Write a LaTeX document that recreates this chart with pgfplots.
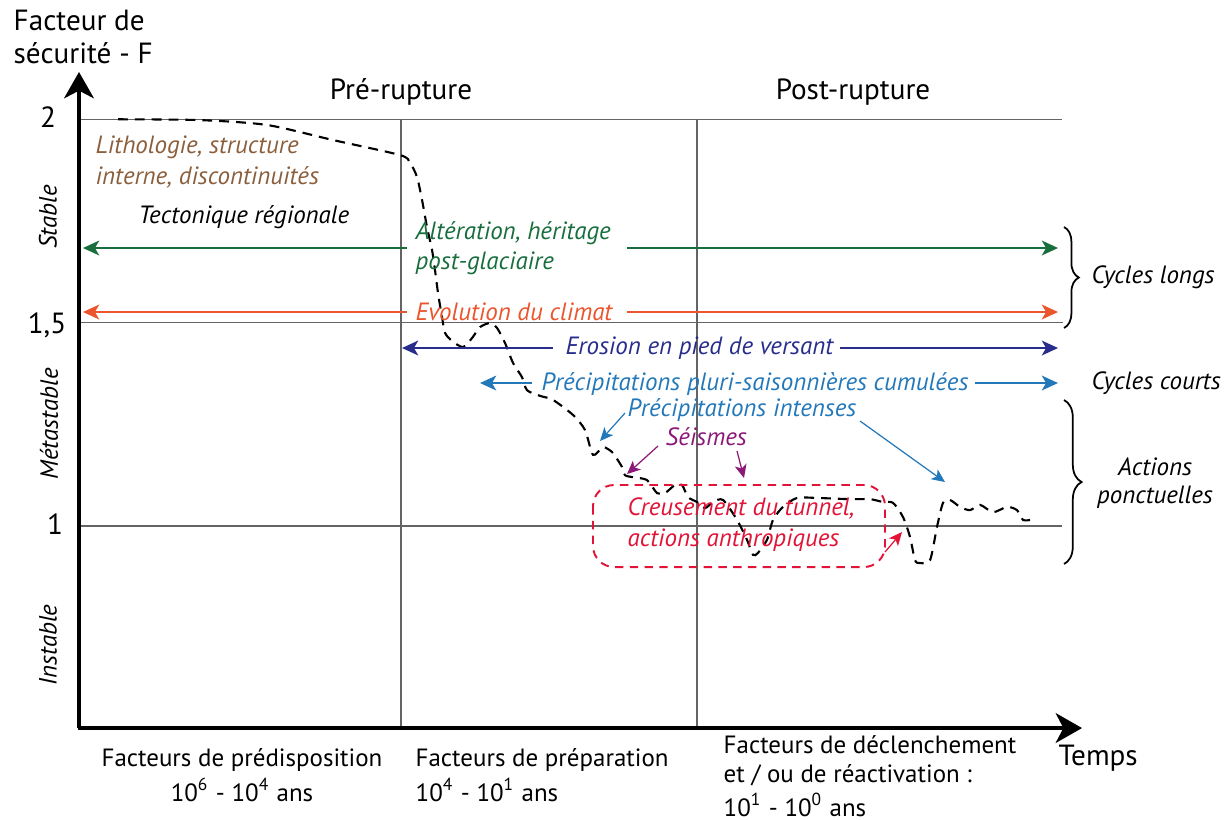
\documentclass[border=0pt]{standalone}
\usepackage{fontspec}
\setmainfont{PT Sans}
\usepackage{pgfplots}
\pgfplotsset{compat=1.18}
\usetikzlibrary{arrows.meta,decorations.pathreplacing}
\definecolor{cbrown}{RGB}{139,94,60}
\definecolor{cgreen}{RGB}{24,110,60}
\definecolor{corange}{RGB}{235,85,45}
\definecolor{cdblue}{RGB}{40,45,140}
\definecolor{cblue}{RGB}{35,120,185}
\definecolor{cpurple}{RGB}{140,25,120}
\definecolor{cred}{RGB}{225,20,55}
\definecolor{cgrid}{RGB}{100,100,100}
\newcommand\Y[1]{{2.2933-(#1)/406.7}}
\newcommand\fn{\fontsize{7.1}{8.5}\selectfont}
\newcommand\fb{\fontsize{8.3}{9.5}\selectfont}
\tikzset{tx/.style={inner sep=0pt, font=\fn},
  it/.style={inner sep=0pt, font=\fn\itshape},
  bg/.style={inner sep=0pt, font=\fb}}
\begin{document}
\begin{tikzpicture}
\begin{axis}[
  scale only axis, width=123.1mm, height=81.9mm,
  xmin=0, xmax=1231, ymin=0.2796, ymax=2.2933,
  axis lines=none, clip=false,
]
\path (axis cs:0,0.2796) rectangle (axis cs:1231,2.2933);
% grid lines
\draw[cgrid, line width=0.45pt] (axis cs:79,2) -- (axis cs:1062,2);
\draw[cgrid, line width=0.45pt] (axis cs:79,1.5) -- (axis cs:1063,1.5);
\draw[cgrid, line width=0.45pt] (axis cs:79,1) -- (axis cs:1062,1);
\draw[cgrid, line width=0.45pt] (axis cs:401,2) -- (axis cs:401,\Y{728});
\draw[cgrid, line width=0.45pt] (axis cs:697,2) -- (axis cs:697,\Y{728});
% axes
\draw[black, line width=0.9pt, -{Stealth[length=7.5pt,width=8.5pt,inset=2.2pt]}] (axis cs:79,\Y{728}) -- (axis cs:79,\Y{72});
\draw[black, line width=0.9pt, -{Stealth[length=7.5pt,width=8.5pt,inset=2.2pt]}] (axis cs:78,\Y{728}) -- (axis cs:1082,\Y{728});
% safety factor curve
\addplot[black, line width=0.6pt, dash pattern=on 2.8pt off 2pt, smooth, tension=0.45] coordinates {
(118,2.000) (200,1.998) (267,1.986) (333,1.949) (400,1.912) (410,1.893)
(417,1.858) (422,1.802) (427,1.735) (432,1.679) (435,1.629) (438,1.573)
(442,1.514) (445,1.475) (452,1.455) (463,1.440) (472,1.462) (480,1.489)
(490,1.499) (497,1.487) (505,1.450) (513,1.401) (522,1.366) (527,1.334)
(540,1.320) (553,1.310) (573,1.273) (585,1.236) (593,1.175) (603,1.194)
(612,1.182) (617,1.165) (622,1.145) (625,1.125) (633,1.120) (647,1.113)
(657,1.081) (665,1.081) (675,1.101) (682,1.101) (688,1.071) (697,1.059)
(705,1.044) (713,1.059) (723,1.064) (737,1.015) (747,0.966) (753,0.929)
(758,0.934) (767,0.966) (773,1.015) (783,1.047) (797,1.069) (817,1.069)
(850,1.066) (870,1.066) (883,1.059) (893,1.057) (903,1.022) (910,0.973)
(915,0.916) (920,0.909) (930,0.916) (937,0.998) (943,1.057) (950,1.064)
(960,1.047) (970,1.039) (980,1.052) (993,1.034) (1007,1.047) (1017,1.039)
(1023,1.015) (1030,1.015)
};
% axis texts
\node[bg, anchor=west] at (axis cs:13,\Y{20}) {Facteur de};
\node[bg, anchor=west] at (axis cs:13,\Y{53}) {sécurité - F};
\node[bg] at (axis cs:48,\Y{117}) {2};
\node[bg] at (axis cs:47,\Y{325}) {1,5};
\node[bg] at (axis cs:55,\Y{524}) {1};
\node[bg] at (axis cs:401,\Y{92}) {Pré-rupture};
\node[bg] at (axis cs:853,\Y{92}) {Post-rupture};
\node[it, rotate=90] at (axis cs:48,\Y{217}) {Stable};
\node[it, rotate=90] at (axis cs:49,\Y{424}) {Métastable};
\node[it, rotate=90] at (axis cs:48,\Y{645}) {Instable};
\node[bg, anchor=west] at (axis cs:1058,\Y{758}) {Temps};
% bottom labels
\node[tx] at (axis cs:242,\Y{760}) {Facteurs de prédisposition};
\node[tx] at (axis cs:242,\Y{790}) {10\textsuperscript{6} - 10\textsuperscript{4} ans};
\node[tx, anchor=west] at (axis cs:415,\Y{760}) {Facteurs de préparation};
\node[tx, anchor=west] at (axis cs:415,\Y{790}) {10\textsuperscript{4} - 10\textsuperscript{1} ans};
\node[tx, anchor=west] at (axis cs:723,\Y{745}) {Facteurs de déclenchement};
\node[tx, anchor=west] at (axis cs:723,\Y{775}) {et / ou de réactivation :};
\node[tx, anchor=west] at (axis cs:723,\Y{805}) {10\textsuperscript{1} - 10\textsuperscript{0} ans};
% factor texts
\node[it, anchor=west, text=cbrown] at (axis cs:95,\Y{147}) {Lithologie, structure};
\node[it, anchor=west, text=cbrown] at (axis cs:95,\Y{177}) {interne, discontinuités};
\node[it, anchor=west] at (axis cs:138,\Y{217}) {Tectonique régionale};
\node[it, anchor=west, text=cgreen] at (axis cs:415,\Y{233}) {Altération, héritage};
\node[it, anchor=west, text=cgreen] at (axis cs:415,\Y{263}) {post-glaciaire};
\node[it, anchor=west, text=corange] at (axis cs:415,\Y{312}) {Evolution du climat};
\node[it, anchor=west, text=cdblue] at (axis cs:565,\Y{348}) {Erosion en pied de versant};
\node[it, anchor=west, text=cblue] at (axis cs:541,\Y{384}) {Précipitations pluri-saisonnières cumulées};
\node[it, anchor=west, text=cblue] at (axis cs:627,\Y{410}) {Précipitations intenses};
\node[it, anchor=west, text=cpurple] at (axis cs:665,\Y{437}) {Séismes};
\node[it, anchor=west, text=cred] at (axis cs:627,\Y{508}) {Creusement du tunnel,};
\node[it, anchor=west, text=cred] at (axis cs:627,\Y{540}) {actions anthropiques};
% long arrows
\tikzset{hd/.style={line width=0.6pt}, tip/.tip={Stealth[length=4.6pt,width=4.2pt,inset=1.2pt]}}
\draw[hd, cgreen, {tip}-] (axis cs:83,\Y{248}) -- (axis cs:407,\Y{248});
\draw[hd, cgreen, -{tip}] (axis cs:627,\Y{248}) -- (axis cs:1058,\Y{248});
\draw[hd, corange, {tip}-] (axis cs:83,\Y{312}) -- (axis cs:407,\Y{312});
\draw[hd, corange, -{tip}] (axis cs:627,\Y{312}) -- (axis cs:1058,\Y{312});
\draw[hd, cdblue, {tip}-] (axis cs:402,\Y{348}) -- (axis cs:553,\Y{348});
\draw[hd, cdblue, -{tip}] (axis cs:840,\Y{348}) -- (axis cs:1058,\Y{348});
\draw[hd, cblue, {tip}-] (axis cs:480,\Y{383}) -- (axis cs:532,\Y{383});
\draw[hd, cblue, -{tip}] (axis cs:975,\Y{383}) -- (axis cs:1058,\Y{383});
% short arrows
\tikzset{sa/.style={line width=0.35pt, -{Stealth[length=3.8pt,width=3.4pt,inset=1pt]}}}
\draw[sa, cblue] (axis cs:625,\Y{413}) -- (axis cs:600,\Y{441});
\draw[sa, cblue] (axis cs:860,\Y{421}) -- (axis cs:945,\Y{482});
\draw[sa, cpurple] (axis cs:658,\Y{446}) -- (axis cs:627,\Y{474});
\draw[sa, cpurple] (axis cs:737,\Y{451}) -- (axis cs:744,\Y{478});
\draw[sa, cred] (axis cs:885,\Y{552}) -- (axis cs:902,\Y{532});
% red dashed box
\draw[cred, line width=0.55pt, dash pattern=on 2.4pt off 1.8pt, rounded corners=6pt] (axis cs:593,\Y{485}) rectangle (axis cs:885,\Y{567});
% braces
\draw[line width=0.5pt, decorate, decoration={brace, amplitude=4.2pt}] (axis cs:1064,\Y{227}) -- (axis cs:1064,\Y{328});
\draw[line width=0.5pt, decorate, decoration={brace, amplitude=5pt}] (axis cs:1064,\Y{400}) -- (axis cs:1064,\Y{564});
\node[it, anchor=west] at (axis cs:1091,\Y{277}) {Cycles longs};
\node[it, anchor=west] at (axis cs:1091,\Y{383}) {Cycles courts};
\node[it] at (axis cs:1155,\Y{467}) {Actions};
\node[it] at (axis cs:1155,\Y{497}) {ponctuelles};
\end{axis}
\end{tikzpicture}
\end{document}
